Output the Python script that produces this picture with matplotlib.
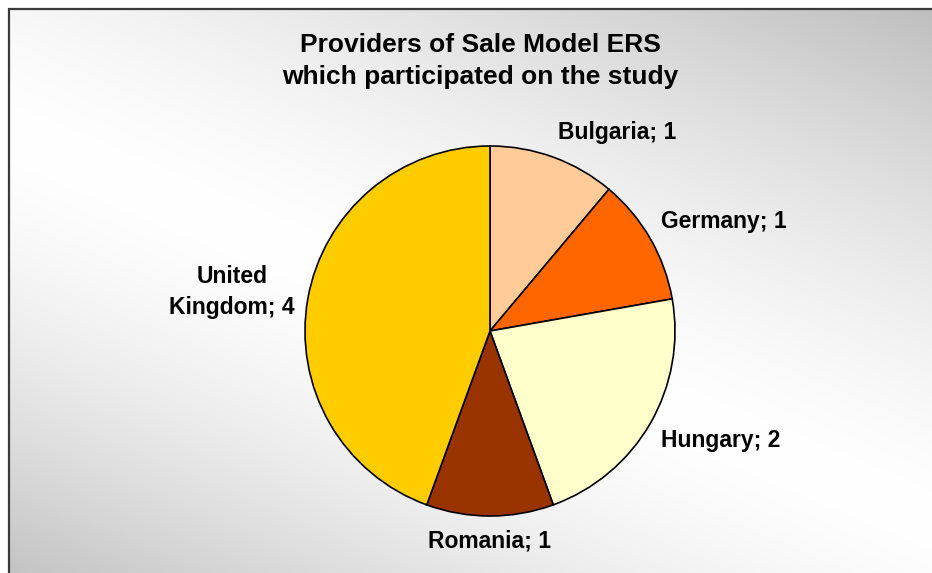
import numpy as np
import matplotlib
matplotlib.use("Agg")
import matplotlib.pyplot as plt
from matplotlib.patches import Rectangle

countries = ["Bulgaria", "Germany", "Hungary", "Romania", "United Kingdom"]
providers = [1, 1, 2, 1, 4]
colors = ["#FFCC99", "#FF6600", "#FFFFCC", "#993300", "#FFCC00"]
title = "Providers of Sale Model ERS\nwhich participated on the study"

W, H = 932, 573
fig = plt.figure(figsize=(W / 100, H / 100), dpi=100)
ax = fig.add_axes([0, 0, 1, 1])

# background gradient: white ridge running diagonally, grey toward top-right / bottom-left
yy, xx = np.mgrid[0:H, 0:W].astype(float)
ridge = 130 + 0.42 * xx
d = ridge - yy
u = np.where(d > 0, d / 520.0, d / 470.0)
g = 1.0 - 0.26 * np.clip(np.abs(u), 0, 1.05) ** 1.5
g[(xx < 9) | (yy < 9)] = 1.0
img = np.dstack([g, g, g])
ax.imshow(img, extent=(0, W, 0, H), origin="upper", zorder=0, interpolation="bilinear")

# frame
ax.add_patch(Rectangle((9, -20), W + 40, H - 9 + 20, fill=False,
                       edgecolor="#3a3a3a", linewidth=1.6, zorder=1))

cx, cy, R = 490, H - 331, 185
wedges, _ = ax.pie(providers, colors=colors, startangle=90, counterclock=False,
                   center=(cx, cy), radius=R, frame=True,
                   wedgeprops=dict(edgecolor="black", linewidth=1.2))
for w in wedges:
    w.set_zorder(2)

font = dict(family="Liberation Sans", weight="bold", fontsize=16.5, color="black")
kx = 1.07
for w, name, val in zip(wedges, countries, providers):
    th = np.deg2rad((w.theta1 + w.theta2) / 2)
    c, s = np.cos(th), np.sin(th)
    ky = 1.135 + 0.1 * (1 - abs(s))
    x, y = cx + kx * R * c, cy + ky * R * s
    if abs(c) < 0.2:
        ha = "center"
    elif c > 0:
        ha = "left"
    else:
        ha = "right"
    label = f"{name}; {val}"
    if name == "United Kingdom":
        label = f"United\nKingdom; {val}"
    ax.text(x, y, label, ha=ha, va="center", multialignment="center",
            linespacing=1.45, zorder=3, **font)

ax.text(480, H - 61, title, ha="center", va="center", linespacing=1.38,
        family="Liberation Sans", weight="bold", fontsize=19, zorder=3)

ax.set_xlim(0, W)
ax.set_ylim(0, H)
ax.set_aspect("auto")
ax.axis("off")
fig.savefig("out.png", dpi=100)
